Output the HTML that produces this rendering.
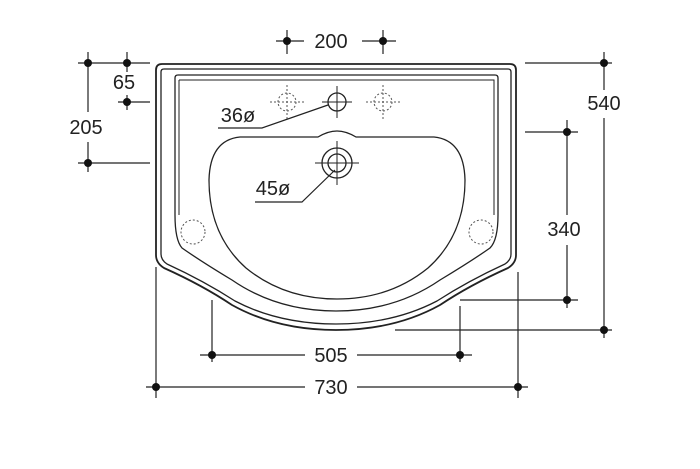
<!DOCTYPE html>
<html><head><meta charset="utf-8"><style>
html,body{margin:0;padding:0;background:#fff;}
svg{display:block;}
text{font-family:"Liberation Sans",sans-serif;font-size:20px;fill:#222;}
</style></head><body>
<svg width="700" height="469" viewBox="0 0 700 469" xmlns="http://www.w3.org/2000/svg">
<g fill="none" stroke="#222" stroke-width="1.3">
<path d="M156,70 Q156,64 162,64 L510,64 Q516,64 516,70 L516,255 Q516,263 508,268 Q470,285 440,305 Q395,330 336,330 Q277,330 232,305 Q202,285 164,268 Q156,263 156,255 Z" stroke-width="1.8"/>
<path d="M161,72 Q161,69 164,69 L508,69 Q511,69 511,72 L511,254 Q511,260 505,264 Q468,281 437,301 Q393,324 336,324 Q279,324 235,301 Q204,281 167,264 Q161,260 161,254 Z"/>
<path d="M175,78 Q175,75 178,75 L495,75 Q498,75 498,78 L498,215 Q498,240 490,248 Q470,262 440,280 Q395,311 336,311 Q277,311 232,280 Q202,262 182,248 Q175,240 175,215 Z"/>
<path d="M179,80 L494,80 L494,215 M179,80 L179,215" stroke-width="1"/>
<path d="M240,137 L318,137 Q328,131 337,131 Q346,131 356,137 L434,137 Q464,140 465,180 Q465,235 428,268 Q390,299 337,299 Q284,299 246,268 Q209,235 209,180 Q210,140 240,137 Z"/>
<circle cx="337" cy="102" r="9"/>
<path d="M322,102 H352 M337,86 V118" stroke-width="1"/>
<circle cx="337" cy="163" r="15"/>
<circle cx="337" cy="163" r="9"/>
<path d="M315,163 H359 M337,141 V185" stroke-width="1"/>
</g>
<g fill="none" stroke="#555" stroke-width="1" stroke-dasharray="2,2">
<circle cx="287" cy="102" r="9"/><path d="M270,102 H304 M287,85 V119"/>
<circle cx="383" cy="102" r="9"/><path d="M366,102 H400 M383,85 V119"/>
<circle cx="193" cy="232" r="12"/>
<circle cx="481" cy="232" r="12"/>
</g>
<g fill="none" stroke="#222" stroke-width="1.2">
<path d="M276,41 H304 M362,41 H396 M287,30 V54 M383,30 V54"/>
<path d="M78,63 H150 M118,102 H150 M78,163 H150 M88,52 V112 M88,142 V172 M127,52 V72 M127,95 V110"/>
<path d="M525,63 H612 M395,330 H612 M604,52 V90 M604,118 V338"/>
<path d="M525,132 H578 M460,300 H578 M567,120 V215 M567,245 V308"/>
<path d="M212,300 V362 M460,306 V362 M200,355 H305 M357,355 H472"/>
<path d="M156,267 V398 M518,272 V398 M146,387 H305 M357,387 H528"/>
<path d="M218,128 H262 L328,105 M255,202 H302 L335,170"/>
</g>
<g fill="#111">
<circle cx="287" cy="41" r="4"/><circle cx="383" cy="41" r="4"/>
<circle cx="88" cy="63" r="4"/><circle cx="127" cy="63" r="4"/><circle cx="127" cy="102" r="4"/><circle cx="88" cy="163" r="4"/>
<circle cx="604" cy="63" r="4"/><circle cx="604" cy="330" r="4"/>
<circle cx="567" cy="132" r="4"/><circle cx="567" cy="300" r="4"/>
<circle cx="212" cy="355" r="4"/><circle cx="460" cy="355" r="4"/>
<circle cx="156" cy="387" r="4"/><circle cx="518" cy="387" r="4"/>
</g>
<text x="331" y="48" text-anchor="middle">200</text>
<text x="124" y="89" text-anchor="middle">65</text>
<text x="86" y="134" text-anchor="middle">205</text>
<text x="238" y="122" text-anchor="middle">36ø</text>
<text x="273" y="195" text-anchor="middle">45ø</text>
<text x="604" y="110" text-anchor="middle">540</text>
<text x="564" y="236" text-anchor="middle">340</text>
<text x="331" y="362" text-anchor="middle">505</text>
<text x="331" y="394" text-anchor="middle">730</text>
</svg>
</body></html>
